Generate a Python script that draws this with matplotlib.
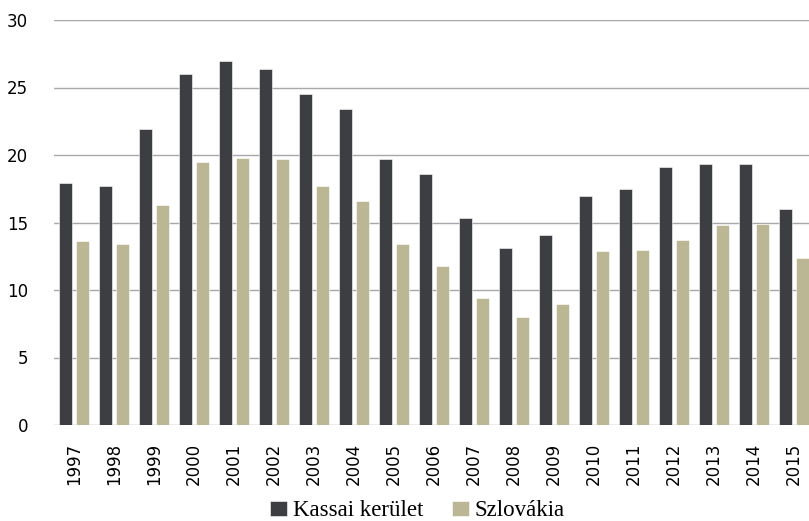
import numpy as np
import matplotlib.pyplot as plt

years = [str(y) for y in range(1997, 2016)]
kassai = [17.9, 17.7, 21.9, 26.0, 27.0, 26.4, 24.5, 23.4, 19.7, 18.6,
          15.3, 13.1, 14.1, 17.0, 17.5, 19.1, 19.3, 19.3, 16.0]
szlovakia = [13.6, 13.4, 16.3, 19.5, 19.8, 19.7, 17.7, 16.6, 13.4, 11.8,
             9.4, 8.0, 9.0, 12.9, 13.0, 13.7, 14.8, 14.9, 12.4]

plt.rcParams['font.family'] = ['DejaVu Sans']

fig = plt.figure(figsize=(8.09, 5.21), dpi=100)
# axes runs past the right edge, like the original
ax = fig.add_axes([54/809, 96/521, 760/809, 405/521])

x = np.arange(len(years))
w = 0.333
ax.bar(x - w/2 - 0.04, kassai, w, color='#3d3e42', edgecolor='white', linewidth=0.4,
       label='Kassai kerület', zorder=3)
ax.bar(x + w/2 + 0.04, szlovakia, w, color='#bbb795', edgecolor='white', linewidth=0.4,
       label='Szlovákia', zorder=3)

ax.set_xlim(-0.5, len(years) - 0.5)
ax.set_ylim(0, 30)
ax.set_yticks(np.arange(0, 31, 5))
ax.set_xticks(x)
ax.set_xticklabels(years, rotation=90, fontsize=12)
ax.tick_params(axis='y', labelsize=12, length=0, pad=18.5)
ax.tick_params(axis='x', length=0, pad=13)
ax.grid(axis='y', color='#a8a8ac', linewidth=1.0, zorder=0)
for s in ax.spines.values():
    s.set_visible(False)

fig.legend(loc='lower center', bbox_to_anchor=(0.516, -0.04), ncol=2, frameon=False,
           prop={'family': ['Liberation Serif'], 'size': 16.5},
           handlelength=0.75, handleheight=0.65, handletextpad=0.25,
           columnspacing=1.25)

plt.savefig('out.png', dpi=100)
